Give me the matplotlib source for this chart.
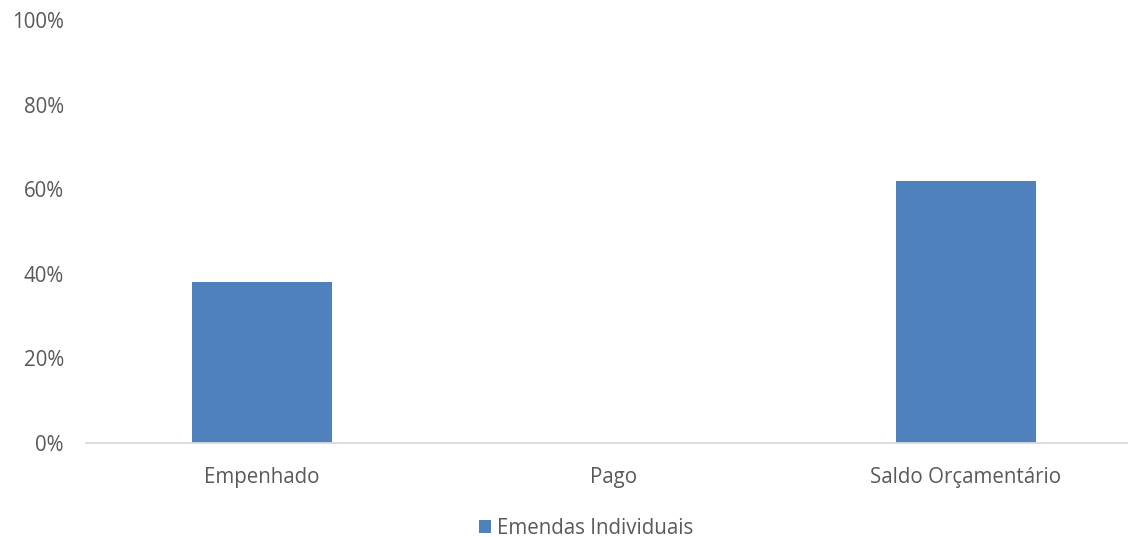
import matplotlib.pyplot as plt
import numpy as np

# dados
categorias = ["Empenhado", "Pago", "Saldo Orçamentário"]
valores = [38, 0, 62]
serie = "Emendas Individuais"
ticks_y = [0, 20, 40, 60, 80, 100]

azul = "#4F81BD"
cinza_txt = "#595959"

plt.rcParams['font.family'] = ['Open Sans', 'DejaVu Sans']

fig = plt.figure(figsize=(11.28, 5.37), dpi=100)
ax = fig.add_axes([86/1128, 94/537, 1056/1128, 423/537])

x = np.arange(len(categorias))
ax.bar(x, valores, width=0.40, color=azul, label=serie, zorder=2)

ax.set_xlim(-0.5, 2.5)
ax.set_ylim(0, 100)
ax.set_yticks(ticks_y)
ax.set_yticklabels([f"{t}%" for t in ticks_y])
ax.set_xticks(x)
ax.set_xticklabels(categorias)

for s in ["top", "right", "left"]:
    ax.spines[s].set_visible(False)
ax.spines["bottom"].set_color("#D9D9D9")
ax.spines["bottom"].set_linewidth(1.3)
ax.tick_params(length=0, labelsize=14.8, colors=cinza_txt)
ax.tick_params(axis="y", pad=16)
ax.tick_params(axis="x", pad=17)

fig.legend(loc="center", bbox_to_anchor=(586/1128, 1 - 528/537), frameon=False,
           fontsize=14.8, labelcolor=cinza_txt, handlelength=0.6, handleheight=0.6,
           handletextpad=0.3)

fig.savefig("out.png", dpi=100)
